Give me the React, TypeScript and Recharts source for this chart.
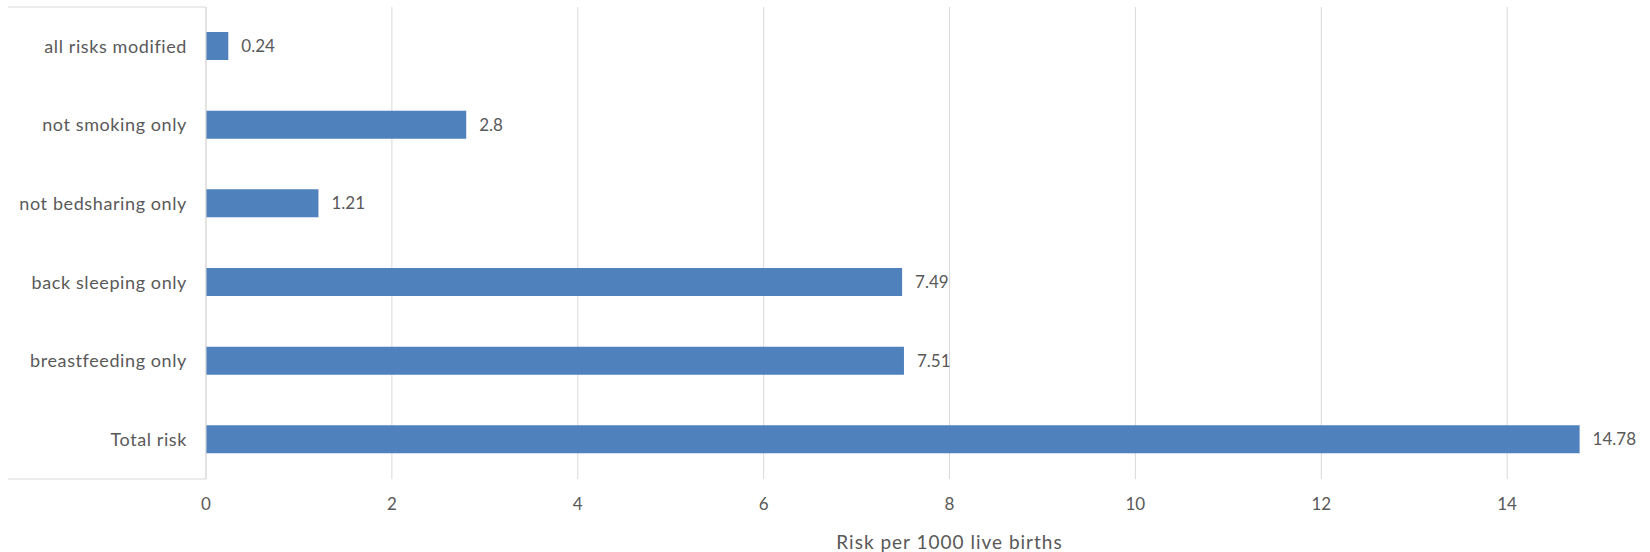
import React from 'react';
import * as R from 'recharts';
import { BarChart, Bar, XAxis, YAxis, CartesianGrid, LabelList } from 'recharts';

const categories = [
  'all risks modified',
  'not smoking only',
  'not bedsharing only',
  'back sleeping only',
  'breastfeeding only',
  'Total risk',
];
const riskValues = [0.24, 2.8, 1.21, 7.49, 7.51, 14.78];
const xTicks = [0, 2, 4, 6, 8, 10, 12, 14];
const axisTitle = 'Risk per 1000 live births';

const data = categories.map((c, i) => ({ name: c, value: riskValues[i] }));

const FONT = 'Lato, "Open Sans", sans-serif';
const TEXT = '#595959';
const GRID = '#D9D9D9';

const Frame = () => {
  const hook = (R as any).usePlotArea || (R as any).useOffset;
  const area = hook ? hook() : null;
  if (!area) return null;
  const x0 = 8;
  const left = area.x ?? area.left;
  const top = area.y ?? area.top;
  const height = area.height ?? 0;
  if (left == null || top == null) return null;
  const bottom = top + height;
  return (
    <g>
      <line x1={x0} y1={top} x2={left} y2={top} stroke={GRID} strokeWidth={1} />
      <line x1={x0} y1={bottom} x2={left} y2={bottom} stroke={GRID} strokeWidth={1} />
    </g>
  );
};

export default function App() {
  return (
    <div style={{ position: 'fixed', left: 0, top: 0, width: 1650, height: 552, overflow: 'hidden', background: '#fff' }}>
      <BarChart
        width={1720}
        height={552}
        data={data}
        layout="vertical"
        margin={{ top: 7, right: 27, bottom: 0, left: 0 }}
        barSize={28}
      >
        <CartesianGrid horizontal={false} vertical={true} stroke={GRID} strokeWidth={1} />
        <XAxis
          type="number"
          domain={[0, 16]}
          ticks={xTicks}
          interval={0}
          axisLine={false}
          tickLine={false}
          tickSize={0}
          tickMargin={19}
          height={73}
          tick={{ fill: TEXT, fontSize: 17, fontFamily: FONT }}
          label={{ value: axisTitle, position: 'insideBottom', offset: 3, fill: TEXT, fontSize: 19, fontFamily: FONT, letterSpacing: 1 }}
        />
        <YAxis
          type="category"
          dataKey="name"
          width={206}
          axisLine={{ stroke: GRID }}
          tickLine={false}
          tickSize={0}
          tickMargin={19}
          interval={0}
          tick={{ fill: TEXT, fontSize: 18, fontFamily: FONT, letterSpacing: 0.6 }}
        />
        <Bar dataKey="value" fill="#4F81BD" isAnimationActive={false}>
          <LabelList dataKey="value" position="right" offset={13} fill={TEXT} fontSize={17} fontFamily={FONT} />
        </Bar>
        <Frame />
      </BarChart>
    </div>
  );
}
